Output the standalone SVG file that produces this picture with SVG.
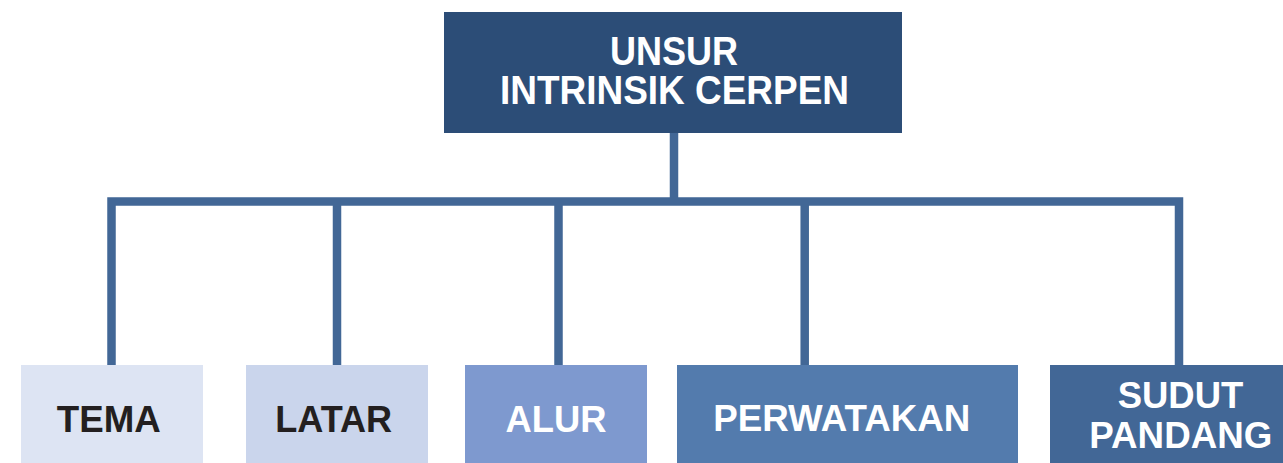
<svg xmlns="http://www.w3.org/2000/svg" width="1283" height="463" viewBox="0 0 1283 463">
<style>
text{font-family:"Liberation Sans",Arial,sans-serif;font-weight:bold;text-anchor:middle}
.t{font-size:40px;fill:#ffffff}
.b{font-size:37px}
.w{fill:#ffffff}
.k{fill:#231f20}
.ln{stroke:#426796;stroke-width:8.5;fill:none}
</style>
<rect width="1283" height="463" fill="#ffffff"/>
<g id="connectors">
<path class="ln" d="M674 133V201.5M111.5 365V201.5H1179V365M337 201.5V365M558.5 201.5V365M804.7 201.5V365"/>
</g>
<g id="root">
<rect x="444" y="12" width="458" height="121" fill="#2c4d77"/>
<text class="t" x="674" y="65" textLength="128" lengthAdjust="spacingAndGlyphs">UNSUR</text>
<text class="t" x="674.5" y="104" textLength="349" lengthAdjust="spacingAndGlyphs">INTRINSIK CERPEN</text>
</g>
<g id="tema">
<rect x="21" y="365" width="182" height="98" fill="#dde4f3"/>
<text class="b k" x="108.8" y="432" textLength="104" lengthAdjust="spacingAndGlyphs">TEMA</text>
</g>
<g id="latar">
<rect x="246" y="365" width="182" height="98" fill="#cad5ec"/>
<text class="b k" x="333.7" y="432" textLength="117" lengthAdjust="spacingAndGlyphs">LATAR</text>
</g>
<g id="alur">
<rect x="465" y="365" width="182" height="98" fill="#7e99cf"/>
<text class="b w" x="556" y="432" textLength="101" lengthAdjust="spacingAndGlyphs">ALUR</text>
</g>
<g id="perwatakan">
<rect x="677" y="365" width="341" height="98" fill="#537bad"/>
<text class="b w" x="841.7" y="431" textLength="257" lengthAdjust="spacingAndGlyphs">PERWATAKAN</text>
</g>
<g id="sudut-pandang">
<rect x="1050" y="365" width="233" height="98" fill="#426796"/>
<text class="b w" x="1180.5" y="408" textLength="125.6" lengthAdjust="spacingAndGlyphs">SUDUT</text>
<text class="b w" x="1180.8" y="448" textLength="183" lengthAdjust="spacingAndGlyphs">PANDANG</text>
</g>
</svg>
